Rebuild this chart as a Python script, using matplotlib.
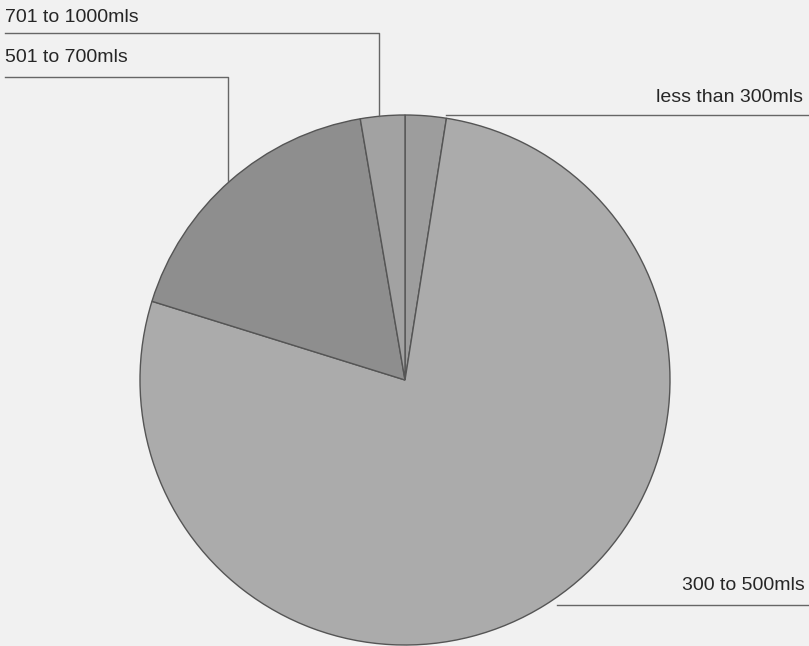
import numpy as np
import matplotlib.pyplot as plt

labels = ['less than 300mls', '300 to 500mls', '501 to 700mls', '701 to 1000mls']
shares = [2.5, 77.3, 17.5, 2.7]
colors = ['#9d9d9d', '#ababab', '#8e8e8e', '#a2a2a2']

W, H = 809, 646
fig = plt.figure(figsize=(W / 100, H / 100), dpi=100)
fig.patch.set_facecolor('#f1f1f1')
ax = fig.add_axes([0, 0, 1, 1])

# pixel-like coordinates, y measured upward
cx, cy, r = 405, H - 380, 265
wedges, _ = ax.pie(shares, colors=colors, startangle=90, counterclock=False,
                   center=(cx, cy), radius=r,
                   wedgeprops=dict(edgecolor='#555555', linewidth=1.0))
ax.set_xlim(0, W)
ax.set_ylim(0, H)
ax.set_aspect('equal')
ax.axis('off')

def edge_point(w, frac=0.5):
    a = np.deg2rad(w.theta1 + (w.theta2 - w.theta1) * frac)
    return cx + r * np.cos(a), cy + r * np.sin(a)

lc = '#666666'
txt = dict(fontsize=14, color='#262626', family=['Liberation Sans', 'DejaVu Sans'])

# less than 300mls: line from outer edge of slice to right border
x0, y0 = edge_point(wedges[0], 0.0)
ax.plot([x0, W], [y0 + 3, y0 + 3], color=lc, lw=1)
ax.text(803, H - 98, labels[0], ha='right', va='center', **txt)

# 300 to 500mls
x0, y0 = edge_point(wedges[1])
ax.plot([x0 + 12, W], [y0, y0], color=lc, lw=1)
ax.text(805, H - 585, labels[1], ha='right', va='center', **txt)

# 501 to 700mls
x0, y0 = edge_point(wedges[2])
ax.plot([5, x0 - 2, x0 - 2], [H - 77, H - 77, y0], color=lc, lw=1)
ax.text(5, H - 57, labels[2], ha='left', va='center', **txt)

# 701 to 1000mls
x0, y0 = edge_point(wedges[3])
ax.plot([5, x0 - 4, x0 - 4], [H - 33, H - 33, y0], color=lc, lw=1)
ax.text(5, H - 17, labels[3], ha='left', va='center', **txt)

fig.savefig('out.png', dpi=100, facecolor=fig.get_facecolor())
